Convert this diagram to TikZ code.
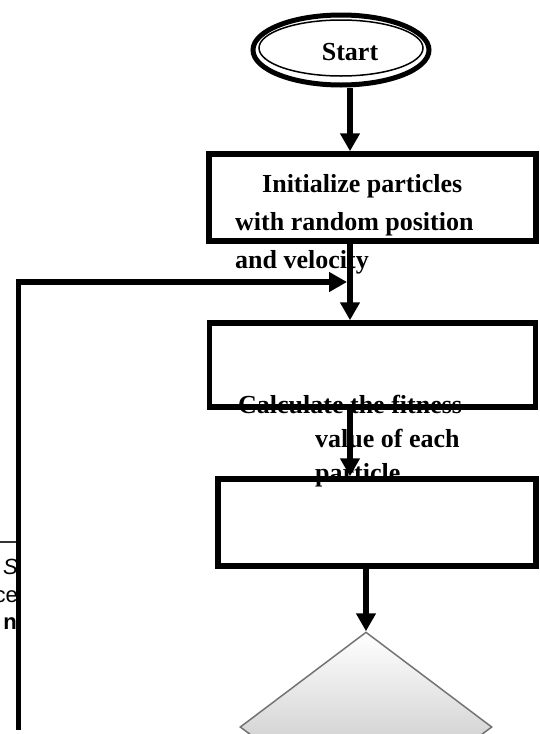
\documentclass[tikz,border=0pt]{standalone}
\usepackage{fontspec}
\setmainfont{Liberation Serif}
\newfontfamily\sidefont{Liberation Sans}
\usetikzlibrary{arrows.meta, shapes.geometric}

\begin{document}
\begin{tikzpicture}[x=1pt, y=-1pt,
        box/.style={draw, rectangle, line width=5.5pt, inner sep=0pt},
        arr/.style={line width=5.5pt, -{Triangle[length=18pt, width=19pt]}},
        decision/.style={diamond, draw=black!55, line width=1.5pt, top color=white, bottom color=black!30, inner sep=0pt},
        steptext/.style={inner sep=0pt, align=left, anchor=north west},
        sidetext/.style={inner sep=0pt, anchor=base east, font=\sidefont\fontsize{22}{26}\selectfont}]
    \useasboundingbox (0, 0) rectangle (540, 734);
    \clip (0, 0) rectangle (540, 734);

    \node[steptext, font=\fontsize{26}{38}\selectfont\bfseries] (inittext) at (235, 174)
        {\hspace*{27pt}Initialize particles\\with random position\\and velocity};
    \node[steptext, font=\fontsize{26}{34}\selectfont\bfseries] (fittext) at (238, 395)
        {Calculate the fitness\\\hspace*{77pt}value of each\\\hspace*{77pt}particle};
    \node[font=\fontsize{26}{30}\selectfont\bfseries, anchor=base] (starttext) at (350, 60) {Start};

    \node[sidetext] (sidea) at (18, 574) {\itshape S};
    \node[sidetext] (sideb) at (18, 602) {ce};
    \node[sidetext] (sidec) at (17, 629) {\bfseries n};
    \draw[line width=1.2pt, black!80] (0, 542) -- (17, 542);

    \node[ellipse, draw, line width=5pt, minimum width=176pt, minimum height=70pt, inner sep=0pt] (start) at (341, 50) {};
    \draw[line width=1.5pt] (341, 48) ellipse [x radius=82, y radius=28];

    \node[box, minimum width=327pt, minimum height=87pt] (init) at (372.5, 197.5) {};
    \node[box, minimum width=326pt, minimum height=84pt] (fit) at (372.5, 365) {};
    \node[box, minimum width=318pt, minimum height=87pt] (upd) at (377, 522.5) {};
    \node[decision, minimum width=252pt, minimum height=190pt] (dec) at (366, 727) {};

    \coordinate (spine) at (350, 0);
    \coordinate (loopend) at (18.5, 730);
    \coordinate (merge) at (347, 282);

    \draw[arr] (start.south -| spine) -- (init.north -| spine);
    \draw[arr] (init.south -| spine) -- (fit.north -| spine);
    \draw[arr] (fit.south -| spine) -- (upd.north -| spine);
    \draw[arr] (upd.south -| dec.north) -- (dec.north);
    \draw[arr] (loopend) |- (merge);
\end{tikzpicture}
\end{document}
